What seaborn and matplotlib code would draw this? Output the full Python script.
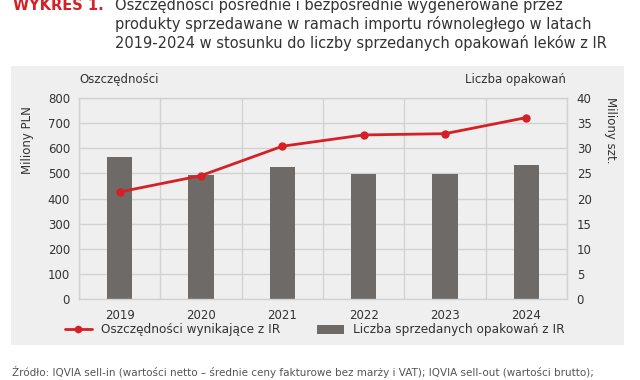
import matplotlib
matplotlib.use("Agg")
import matplotlib.pyplot as plt
from matplotlib.patches import Rectangle, Patch
from matplotlib.lines import Line2D
import numpy as np
import seaborn as sns

years = ["2019", "2020", "2021", "2022", "2023", "2024"]
savings = [426, 491, 608, 653, 658, 722]          # mln PLN, left axis
packs = [28.3, 24.6, 26.3, 24.8, 24.8, 26.7]      # mln szt., right axis

title_lines = ["Oszczędności pośrednie i bezpośrednie wygenerowane przez",
               "produkty sprzedawane w ramach importu równoległego w latach",
               "2019-2024 w stosunku do liczby sprzedanych opakowań leków z IR"]
line_label = "Oszczędności wynikające z IR"
bar_label = "Liczba sprzedanych opakowań z IR"
source = ("Źródło: IQVIA sell-in (wartości netto – średnie ceny fakturowe bez marży i VAT); "
          "IQVIA sell-out (wartości brutto);")

red = "#d71f26"
bar_color = "#6d6a68"
panel = "#efefef"
grid_color = "#d2d2d2"
text_color = "#333333"

sns.set_theme(style="white")
plt.rcParams['font.family'] = ['DejaVu Sans']

W, H = 640, 380
fig = plt.figure(figsize=(6.4, 3.8), dpi=100)
fig.patches.append(Rectangle((11 / W, 1 - 345 / H), 613 / W, 279 / H,
                             transform=fig.transFigure, facecolor=panel,
                             edgecolor="none", zorder=-5))

ax = fig.add_axes([79 / W, 1 - 299 / H, 488 / W, 201 / H])
axr = ax.twinx()
ax.set_zorder(axr.get_zorder() + 1)
ax.patch.set_visible(False)
axr.patch.set_visible(False)

# bars on the right axis
axr.set_axisbelow(True)
axr.yaxis.grid(True, color=grid_color, linewidth=1)
sns.barplot(x=years, y=packs, ax=axr, color=bar_color, width=0.31,
            saturation=1, edgecolor="none", linewidth=0, zorder=2)
# line on the left axis
sns.pointplot(x=years, y=savings, ax=ax, color=red, markers="o",
              markersize=4.5, linewidth=2)

ax.set_xlim(-0.5, 5.5)
ax.set_ylim(0, 800)
ax.set_yticks(np.arange(0, 801, 100))
axr.set_ylim(0, 40)
axr.set_yticks(np.arange(0, 41, 5))
ax.set_xticks(np.arange(-0.5, 6, 1), minor=True)
ax.xaxis.grid(True, which="minor", color=grid_color, linewidth=1)
ax.xaxis.grid(False, which="major")
ax.yaxis.grid(False)

for a in (ax, axr):
    a.set_xlabel("")
    a.set_ylabel("")
    a.tick_params(length=0, which="both", colors=text_color, labelsize=8.5)
    for s in a.spines.values():
        s.set_visible(False)
for s in axr.spines.values():
    s.set_visible(True)
    s.set_color(grid_color)
    s.set_linewidth(1)
ax.tick_params(axis="y", pad=6.5)
ax.tick_params(axis="x", pad=7)
axr.tick_params(axis="y", pad=7)

fig.text(27 / W, 1 - 140 / H, "Miliony PLN", rotation=90, ha="center",
         va="center", fontsize=8.5, color=text_color)
fig.text(610 / W, 1 - 130 / H, "Miliony szt.", rotation=270, ha="center",
         va="center", fontsize=8.5, color=text_color)
fig.text(79 / W, 1 - 80 / H, "Oszczędności", ha="left", va="center",
         fontsize=8.5, color=text_color)
fig.text(566 / W, 1 - 80 / H, "Liczba opakowań", ha="right", va="center",
         fontsize=8.5, color=text_color)

fig.text(13 / W, 1 - 5 / H, "WYKRES 1.", ha="left", va="center",
         fontsize=10.5, fontweight="bold", color=red)
for i, t in enumerate(title_lines):
    fig.text(115 / W, 1 - (5 + 19 * i) / H, t, ha="left", va="center",
             fontsize=10.5, color=text_color)

handles = [Line2D([], [], color=red, marker="o", linewidth=2, markersize=4.5),
           Patch(facecolor=bar_color, edgecolor="none")]
fig.legend(handles, [line_label, bar_label], loc="center",
           bbox_to_anchor=(315 / W, 1 - 330 / H), ncol=2, frameon=False,
           fontsize=8.7, handlelength=2.2, handleheight=0.7,
           columnspacing=3, handletextpad=0.8, labelcolor=text_color)

fig.text(12 / W, 1 - 372 / H, source, ha="left", va="center",
         fontsize=7.45, color="#555555")

fig.savefig("out.png", dpi=100)
